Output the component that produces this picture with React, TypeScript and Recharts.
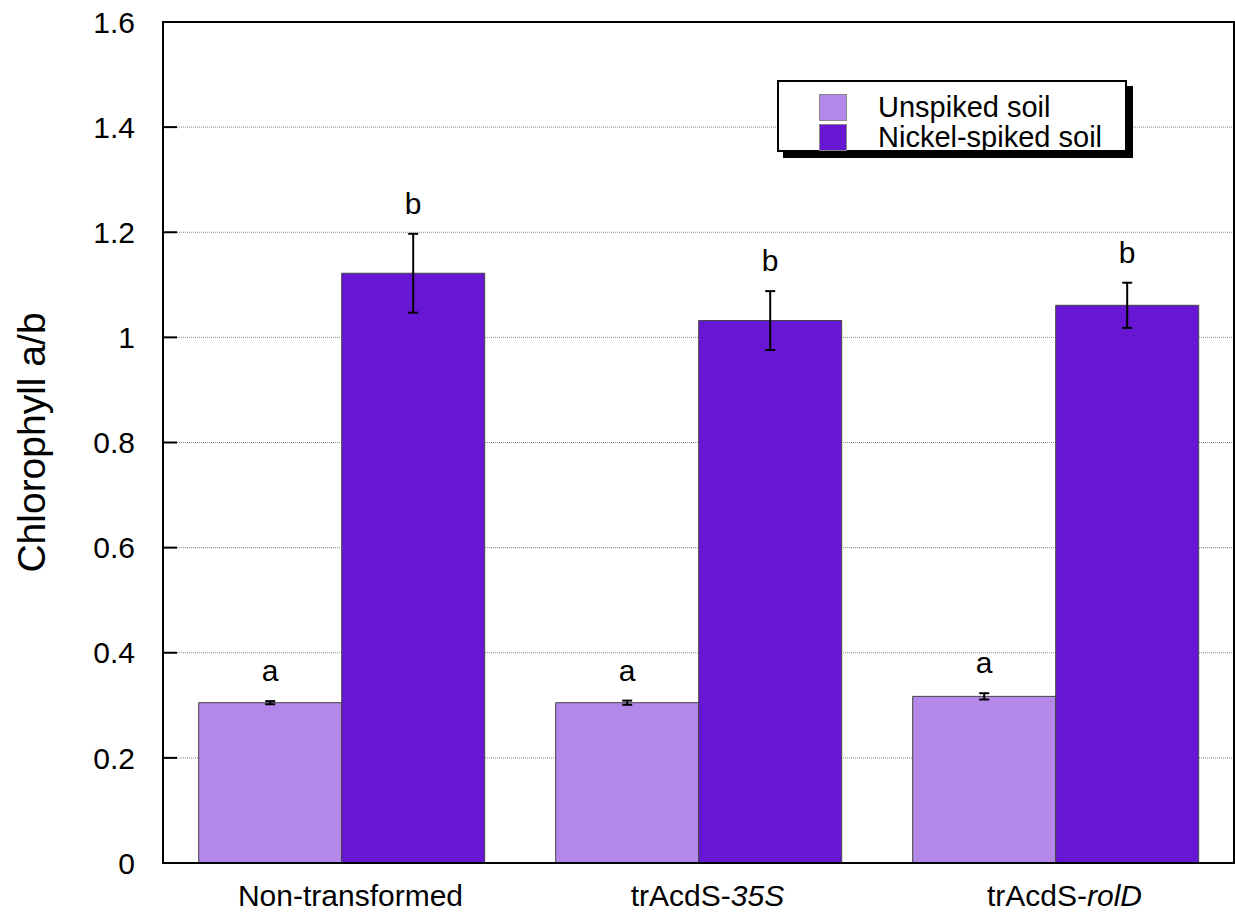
import { BarChart, Bar, XAxis, YAxis, CartesianGrid, ErrorBar, LabelList, ReferenceArea, Label } from 'recharts'

const FONT = '"Liberation Sans", Arial, Helvetica, sans-serif'

const groups = ['Non-transformed', 'trAcdS-35S', 'trAcdS-rolD']
const italicPart = ['', '35S', 'rolD']
const unspiked = [0.305, 0.305, 0.317]
const unspikedErr = [0.003, 0.004, 0.006]
const nickel = [1.122, 1.032, 1.061]
const nickelErr = [0.075, 0.056, 0.043]
const unspikedLetters = ['a', 'a', 'a']
const nickelLetters = ['b', 'b', 'b']
const yTicks = [0, 0.2, 0.4, 0.6, 0.8, 1, 1.2, 1.4, 1.6]

const UNSPIKED_COLOR = '#b388e8'
const NICKEL_COLOR = '#6716d4'

const data = groups.map((g, i) => ({
  group: g,
  unspiked: unspiked[i],
  unspikedErr: unspikedErr[i],
  unspikedLetter: unspikedLetters[i],
  nickel: nickel[i],
  nickelErr: nickelErr[i],
  nickelLetter: nickelLetters[i],
}))

function GroupTick(props: any) {
  const { x, y, payload, index } = props
  const name: string = payload.value
  const it = italicPart[index] || ''
  const plain = it ? name.slice(0, name.length - it.length) : name
  return (
    <text x={x + 9} y={y} dy="0.71em" textAnchor="middle" fontSize={30} fill="#000" fontFamily={FONT}>
      {plain}
      {it && <tspan fontStyle="italic">{it}</tspan>}
    </text>
  )
}

// significance letter sits a fixed gap above the top of the error bar
function letterLabel(values: number[], errs: number[]) {
  return (props: any) => {
    const { x, y, width, height, index, value } = props
    const perUnit = Number(height) / values[index]
    const top = Number(y) - errs[index] * perUnit
    return (
      <text x={Number(x) + Number(width) / 2} y={top - 20} textAnchor="middle" fontSize={30} fill="#000" fontFamily={FONT}>
        {value}
      </text>
    )
  }
}

function LegendBox() {
  const rows = [
    { label: 'Unspiked soil', color: UNSPIKED_COLOR },
    { label: 'Nickel-spiked soil', color: NICKEL_COLOR },
  ]
  return (
    <div
      style={{
        position: 'absolute',
        left: 777,
        top: 80,
        width: 346,
        height: 68,
        border: '2px solid #000',
        background: '#fff',
        boxShadow: '6px 6px 0 #000',
        fontFamily: FONT,
      }}
    >
      {rows.map((r, i) => (
        <div key={r.label} style={{ position: 'absolute', left: 40, top: 11 + i * 30, height: 28, display: 'flex', alignItems: 'center' }}>
          <div style={{ width: 28, height: 27, background: r.color, border: '1px solid #888', boxSizing: 'border-box' }} />
          <span style={{ marginLeft: 31, fontSize: 29, color: '#000', lineHeight: '28px', whiteSpace: 'nowrap' }}>{r.label}</span>
        </div>
      ))}
    </div>
  )
}

export default function App() {
  return (
    <div style={{ position: 'absolute', left: 0, top: 0, width: 1235, height: 912, background: '#fff' }}>
      <BarChart
        width={1235}
        height={912}
        data={data}
        margin={{ top: 22, right: 0, bottom: 0, left: 0 }}
        barCategoryGap="10%"
        barGap={0}
      >
        <CartesianGrid vertical={false} stroke="#8a8a8a" strokeDasharray="1 1" yAxisId="left" />
        <XAxis
          dataKey="group"
          height={49}
          tick={<GroupTick />}
          tickLine={false}
          tickSize={0}
          tickMargin={22}
          axisLine={{ stroke: '#000', strokeWidth: 2 }}
          interval={0}
        />
        <YAxis
          yAxisId="left"
          width={163}
          domain={[0, 1.6]}
          ticks={yTicks}
          interval={0}
          tickSize={-14}
          tickMargin={42}
          tickLine={{ stroke: '#000', strokeWidth: 2 }}
          axisLine={{ stroke: '#000', strokeWidth: 2 }}
          tick={{ fontSize: 30, fill: '#000', fontFamily: FONT }}
        >
          <Label
            content={(p: any) => {
              const vb = p.viewBox
              const cx = vb.x + 45
              const cy = vb.y + vb.height / 2
              return (
                <text x={cx} y={cy} textAnchor="middle" fontSize={39} fill="#000" fontFamily={FONT} transform={`rotate(-90, ${cx}, ${cy})`}>
                  Chlorophyll a/b
                </text>
              )
            }}
          />
        </YAxis>
        <YAxis
          yAxisId="right"
          orientation="right"
          width={1}
          domain={[0, 1.6]}
          ticks={yTicks}
          interval={0}
          tick={false}
          tickSize={-14}
          tickLine={{ stroke: '#000', strokeWidth: 2 }}
          axisLine={{ stroke: '#000', strokeWidth: 2 }}
        />
        {/* box around the plot area */}
        <ReferenceArea yAxisId="left" y1={0} y2={1.6} fill="none" stroke="#000" strokeWidth={2} ifOverflow="visible" />
        <Bar dataKey="unspiked" yAxisId="left" fill={UNSPIKED_COLOR} stroke="#444" strokeWidth={1} isAnimationActive={false}>
          <ErrorBar dataKey="unspikedErr" width={5} stroke="#000" strokeWidth={2} />
          <LabelList dataKey="unspikedLetter" content={letterLabel(unspiked, unspikedErr)} />
        </Bar>
        <Bar dataKey="nickel" yAxisId="left" fill={NICKEL_COLOR} stroke="#444" strokeWidth={1} isAnimationActive={false}>
          <ErrorBar dataKey="nickelErr" width={5} stroke="#000" strokeWidth={2} />
          <LabelList dataKey="nickelLetter" content={letterLabel(nickel, nickelErr)} />
        </Bar>
      </BarChart>
      <LegendBox />
    </div>
  )
}
